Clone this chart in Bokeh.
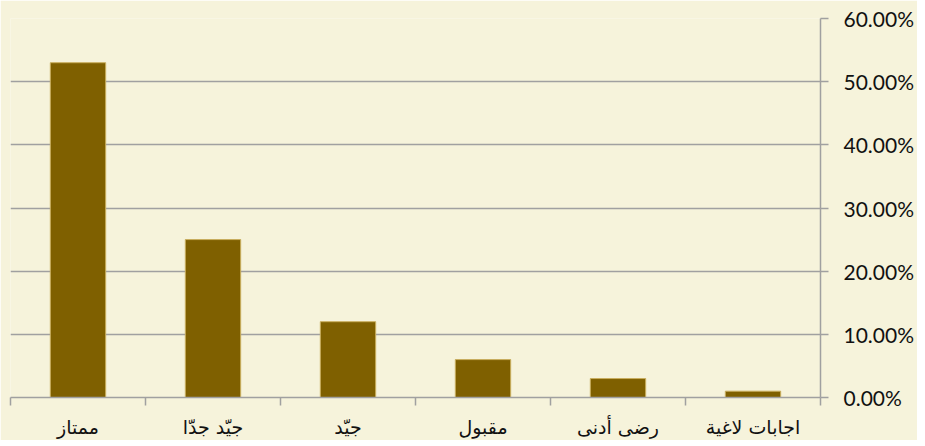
from bokeh.plotting import figure
from bokeh.models import Range1d, FixedTicker, NumeralTickFormatter, ColumnDataSource
from bokeh.embed import file_html
from bokeh.resources import INLINE

categories = ["ممتاز", "جيّد جدّا", "جيّد", "مقبول", "رضى أدنى", "اجابات لاغية"]
values = [0.53, 0.25, 0.12, 0.06, 0.03, 0.01]
y_ticks = [0.0, 0.1, 0.2, 0.3, 0.4, 0.5, 0.6]

centers = [i + 0.5 for i in range(len(categories))]
bounds = list(range(len(categories) + 1))

BG = "#F6F3DB"
GRID = "#A0A0A0"

p = figure(frame_width=810, frame_height=379, output_backend="svg", toolbar_location=None,
           x_range=Range1d(0, len(categories)), y_range=Range1d(0, 0.6),
           y_axis_location="right", min_border_left=10, min_border_top=18,
           min_border_right=97, min_border_bottom=41)
p.background_fill_color = BG
p.border_fill_color = BG
p.outline_line_color = None

src = ColumnDataSource(dict(x=centers, top=values))
p.vbar(x="x", top="top", width=0.41, source=src, fill_color="#7F6000",
       line_color="#C9AE5E", line_width=1)

# y axis
ya = p.yaxis[0]
ya.ticker = FixedTicker(ticks=y_ticks)
ya.formatter = NumeralTickFormatter(format="0.00%")
ya.axis_line_color = GRID
ya.axis_line_width = 1.5
ya.major_tick_line_color = GRID
ya.major_tick_line_width = 1.5
ya.major_tick_in = 0
ya.major_tick_out = 8
ya.minor_tick_line_color = None
ya.major_label_text_font = "Lato"
ya.major_label_text_font_size = "21px"
ya.major_label_text_color = "#111111"
ya.major_label_standoff = 15

# x axis
xa = p.xaxis[0]
xa.ticker = FixedTicker(ticks=centers, minor_ticks=bounds)
xa.major_label_overrides = {c: cat for c, cat in zip(centers, categories)}
xa.axis_line_color = GRID
xa.axis_line_width = 1.5
xa.major_tick_line_color = None
xa.minor_tick_line_color = GRID
xa.minor_tick_line_width = 1.5
xa.minor_tick_in = 0
xa.minor_tick_out = 8
xa.major_label_text_font = "DejaVu Sans"
xa.major_label_text_font_size = "19px"
xa.major_label_text_color = "#111111"
xa.major_label_standoff = 10

p.xgrid.grid_line_color = None
p.ygrid.ticker = FixedTicker(ticks=y_ticks)
p.ygrid.grid_line_color = GRID
p.ygrid.grid_line_width = 1.5

open("out.html", "w").write(file_html(p, INLINE))
